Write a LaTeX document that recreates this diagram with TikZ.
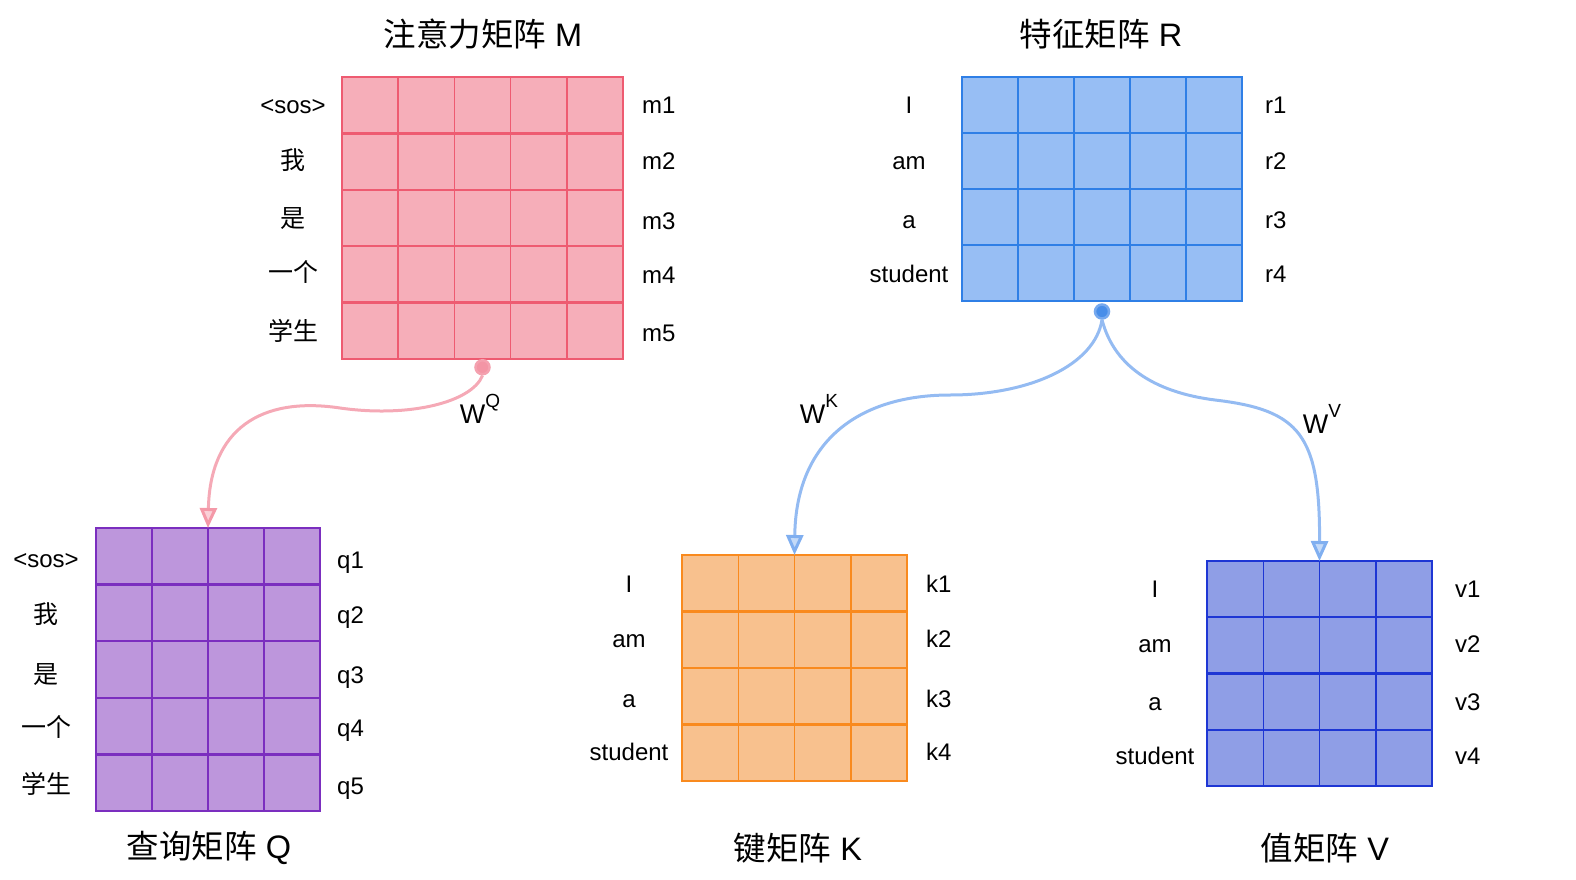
\documentclass[tikz,border=0pt]{standalone}
\usepackage{fontspec}
\setmainfont{Liberation Sans}
\newfontfamily\cjk{Noto Sans CJK SC}
\usetikzlibrary{positioning,arrows.meta,calc}

\definecolor{mfill}{HTML}{F6AEB9}
\definecolor{mline}{HTML}{EE5B71}
\definecolor{rfill}{HTML}{97BEF4}
\definecolor{rline}{HTML}{2F7FE6}
\definecolor{qfill}{HTML}{BD96DC}
\definecolor{qline}{HTML}{7B2EBF}
\definecolor{kfill}{HTML}{F8C18E}
\definecolor{kline}{HTML}{F98A1E}
\definecolor{vfill}{HTML}{8F9EE6}
\definecolor{vline}{HTML}{1E36D4}
\definecolor{pinkflow}{HTML}{F5A9B6}
\definecolor{blueflow}{HTML}{94BBF2}

% inner lines of a matrix box: node, columns, rows, colour
\newcommand{\matgrid}[4]{%
  \pgfmathtruncatemacro\lastcol{#2-1}%
  \pgfmathtruncatemacro\lastrow{#3-1}%
  \foreach \i in {1,...,\lastcol}
    \draw[#4, line width=1.5pt] ($(#1.north west)!\i/#2!(#1.north east)$) -- ($(#1.south west)!\i/#2!(#1.south east)$);
  \foreach \j in {1,...,\lastrow}
    \draw[#4, line width=2.4pt] ($(#1.north west)!\j/#3!(#1.south west)$) -- ($(#1.north east)!\j/#3!(#1.south east)$);
}
% weight name with its letter raised
\newcommand{\wname}[1]{W\raisebox{0.6em}{\fontsize{19}{19}\selectfont #1}}

\begin{document}
\begin{tikzpicture}[x=1pt, y=-1pt,
  % Filled boxes for the matrices
  matbox/.style 2 args={rectangle, draw=#1, fill=#2, line width=1.7pt,
    inner sep=0pt, outer sep=0pt},
  % Titles under or over each matrix
  title/.style={font=\fontsize{32.5}{32.5}\selectfont, inner sep=0pt},
  % Row words on the left
  word/.style={font=\fontsize{24}{24}\selectfont, text height=17pt,
    text depth=5.5pt, inner sep=0pt},
  cjkword/.style={word, font=\cjk\fontsize{25}{25}\selectfont},
  % Vector names on the right
  vec/.style={word, anchor=west},
  % Start dots of the projections
  pinkdot/.style={circle, draw=pinkflow!90!mline, fill=pinkflow!75!mline,
    line width=2.5pt, minimum size=14pt, inner sep=0pt},
  bluedot/.style={circle, draw=blueflow!70!rline, fill=rline!75!blueflow,
    line width=2.5pt, minimum size=14pt, inner sep=0pt},
  % Thick curved projections
  flow/.style 2 args={draw=#1, line width=3pt,
    -{Triangle[length=20pt, width=17pt, color=#2, fill=#1!55!white]}},
  % Weight labels
  weight/.style={font=\fontsize{27}{27}\selectfont, inner sep=0pt},
]
  \useasboundingbox (0,0) rectangle (1576,880);

  % === Matrices ===
  \node[matbox={mline}{mfill}, minimum width=281pt, minimum height=282pt] (M) at (482.5,218) {};
  \node[matbox={rline}{rfill}, minimum width=280pt, minimum height=224.5pt] (R) at (1102,189) {};
  \node[matbox={qline}{qfill}, minimum width=224pt, minimum height=283pt] (Q) at (208,669.5) {};
  \node[matbox={kline}{kfill}, minimum width=225pt, minimum height=226pt] (K) at (794.5,668) {};
  \node[matbox={vline}{vfill}, minimum width=225pt, minimum height=225pt] (V) at (1319.5,673.5) {};
  \matgrid{M}{5}{5}{mline}
  \matgrid{R}{5}{4}{rline}
  \matgrid{Q}{4}{5}{qline}
  \matgrid{K}{4}{4}{kline}
  \matgrid{V}{4}{4}{vline}

  % === Titles ===
  \node[title] (Mtitle) at (483,34) {{\cjk 注意力矩阵} M};
  \node[title] (Rtitle) at (1101,34) {{\cjk 特征矩阵} R};
  \node[title] (Qtitle) at (209,848) {{\cjk 查询矩阵} Q};
  \node[title] (Ktitle) at (798,848) {{\cjk 键矩阵} K};
  \node[title] (Vtitle) at (1325,848) {{\cjk 值矩阵} V};

  % === Row words and vector names ===
  \node[word] (Mw1) at (293,108) {<sos>};
  \foreach \t/\y [count=\n from 2] in {我/164, 是/222, 一个/276, 学生/335}
    \node[cjkword] (Mw\n) at (293,\y) {\t};
  \foreach \y [count=\n] in {108,164,224,278,336}
    \node[vec] (m\n) at (642,\y) {m\n};

  \foreach \t/\y [count=\n] in {I/108, am/164, a/223, student/277}
    \node[word] (Rw\n) at (909,\y) {\t};
  \foreach \y [count=\n] in {108,164,223,277}
    \node[vec] (r\n) at (1265,\y) {r\n};

  \node[word] (Qw1) at (46,562) {<sos>};
  \foreach \t/\y [count=\n from 2] in {我/618, 是/678, 一个/731, 学生/788}
    \node[cjkword] (Qw\n) at (46,\y) {\t};
  \foreach \y [count=\n] in {563,618,678,731,789}
    \node[vec] (q\n) at (337,\y) {q\n};

  \foreach \t/\y [count=\n] in {I/587, am/642, a/702, student/755}
    \node[word] (Kw\n) at (629,\y) {\t};
  \foreach \y [count=\n] in {587,642,702,755}
    \node[vec] (k\n) at (926,\y) {k\n};

  \foreach \t/\y [count=\n] in {I/592, am/647, a/705, student/759}
    \node[word] (Vw\n) at (1155,\y) {\t};
  \foreach \y [count=\n] in {592,647,705,759}
    \node[vec] (v\n) at (1455,\y) {v\n};

  % === Projections ===
  \node[pinkdot, below=0pt of M] (Mdot) {};
  \node[bluedot, below=2pt of R] (Rdot) {};

  \draw[flow={pinkflow}{pinkflow!80!mline}] (Mdot.south) .. controls (472,402) and (410,418) .. (340,408)
    .. controls (260,396) and (210,430) .. (Q.north);
  \draw[flow={blueflow}{blueflow!80!rline}] (Rdot.south) .. controls (1095,365) and (1030,395) .. (950,395)
    .. controls (860,395) and (796,440) .. (K.north);
  \draw[flow={blueflow}{blueflow!80!rline}] (Rdot.south) .. controls (1115,370) and (1160,393) .. (1215,400)
    .. controls (1300,410) and (1320,435) .. (V.north);

  \node[weight] (WQ) at (480,409) {\wname{Q}};
  \node[weight] (WK) at (819,409) {\wname{K}};
  \node[weight] (WV) at (1322,419) {\wname{V}};
\end{tikzpicture}
\end{document}
